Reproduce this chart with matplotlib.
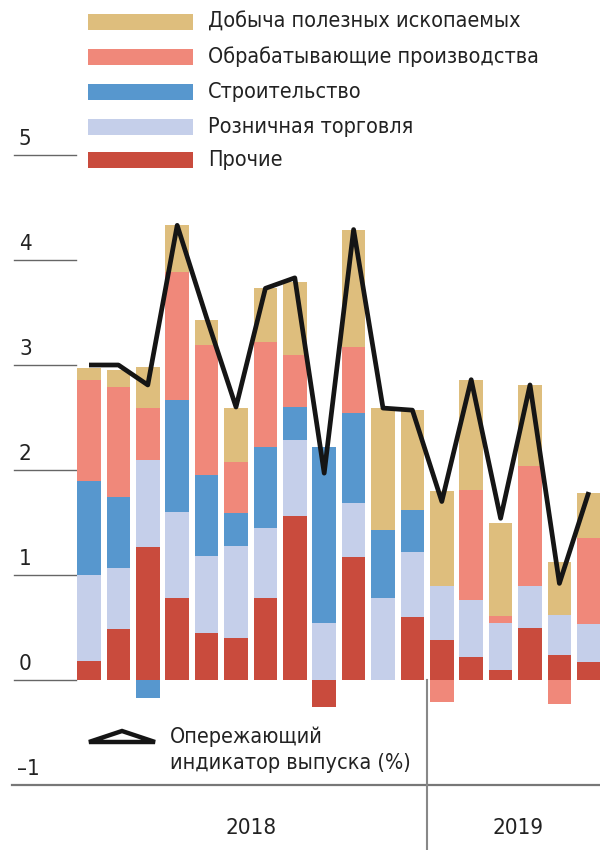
import numpy as np
import matplotlib
matplotlib.use('Agg')
import matplotlib.pyplot as plt
from matplotlib.patches import Rectangle, Polygon

plt.rcParams['font.family'] = ['DejaVu Sans']
plt.rcParams['font.stretch'] = 'condensed'

# ── данные ──
labels = ['Добыча полезных ископаемых', 'Обрабатывающие производства',
          'Строительство', 'Розничная торговля', 'Прочие']
colors = ['#DEBE7D', '#F0887A', '#5797CE', '#C5CFEA', '#C94B3D']

mining = [0.11, 0.16, 0.39, 0.44, 0.24, 0.51, 0.51, 0.69, 0.0, 1.12,
          1.16, 0.95, 0.90, 1.05, 0.89, 0.77, 0.50, 0.43]
manuf = [0.96, 1.05, 0.49, 1.22, 1.24, 0.49, 1.00, 0.50, 0.0, 0.63,
         0.0, 0.0, -0.21, 1.05, 0.07, 1.14, -0.23, 0.82]
constr = [0.90, 0.67, -0.17, 1.07, 0.77, 0.31, 0.77, 0.31, 1.68, 0.85,
          0.65, 0.40, 0.0, 0.0, 0.0, 0.0, 0.0, 0.0]
retail = [0.82, 0.58, 0.83, 0.82, 0.73, 0.88, 0.67, 0.73, 0.54, 0.52,
          0.78, 0.62, 0.52, 0.54, 0.44, 0.40, 0.38, 0.36]
other = [0.18, 0.49, 1.27, 0.78, 0.45, 0.40, 0.78, 1.56, -0.26, 1.17,
         0.0, 0.60, 0.38, 0.22, 0.10, 0.50, 0.24, 0.17]
indicator = [3.0, 3.0, 2.81, 4.33, 3.45, 2.6, 3.73, 3.83, 1.97, 4.29,
             2.59, 2.57, 1.7, 2.86, 1.54, 2.81, 0.92, 1.79]
n_2018 = 12
yticks = [5, 4, 3, 2, 1, 0, -1]

# ── пиксели -> данные ──
X0, DX = 89.0, 29.4
Y0, DY = 680.0, 105.0


def px(x):
    return (x - X0) / DX


def py(y):
    return (Y0 - y) / DY


fig = plt.figure(figsize=(6, 8.5), dpi=100)
ax = fig.add_axes([0, 0, 1, 1])
ax.set_xlim(px(0), px(600))
ax.set_ylim(py(850), py(0))
ax.axis('off')

# ── столбцы ──
x = np.arange(len(indicator))
stack = [other, retail, constr, manuf, mining]
stack_colors = colors[::-1]
pos = np.zeros(len(x))
neg = np.zeros(len(x))
for vals, c in zip(stack, stack_colors):
    v = np.array(vals)
    bottom = np.where(v >= 0, pos, neg)
    ax.bar(x, v, width=0.8, bottom=bottom, color=c, linewidth=0, zorder=2)
    pos += np.where(v >= 0, v, 0)
    neg += np.where(v < 0, v, 0)

ax.plot(x, indicator, color='#151515', lw=3.4, solid_joinstyle='round',
        solid_capstyle='butt', zorder=4)

# ── ось Y ──
for t in yticks:
    if t == -1:
        continue
    ax.plot([px(14), px(76)], [t, t], color='#666666', lw=1.0, zorder=1)
    ax.text(px(19), t + 0.06, str(t), fontsize=16, color='#222222',
            ha='left', va='bottom')
ax.text(px(17), -1 + 0.06, '\u2013' + '1', fontsize=16, color='#222222',
        ha='left', va='bottom')
ax.plot([px(12), px(600)], [-1, -1], color='#777777', lw=1.6, zorder=1)

# ── годы ──
ax.plot([n_2018 - 0.5, n_2018 - 0.5], [0, py(850)], color='#888888',
        lw=1.5, zorder=1)
ax.text((n_2018 - 1) / 2, py(828), '2018', fontsize=16, color='#222222',
        ha='center', va='center')
ax.text(14.6, py(828), '2019', fontsize=16, color='#222222',
        ha='center', va='center')

# ── легенда ──
rows = [22, 57, 92, 127, 160]
for lab, c, r in zip(labels, colors, rows):
    ax.add_patch(Rectangle((px(88), py(r + 7.5)), px(193) - px(88),
                           15 / DY, color=c, lw=0))
    ax.text(px(208), py(r), lab, fontsize=15.5, color='#222222',
            ha='left', va='center')

tri = Polygon([[px(89), py(742)], [px(155), py(742)], [px(122), py(731)]],
              closed=True, fill=False, edgecolor='#151515', lw=3.2,
              joinstyle='miter')
ax.add_patch(tri)
ax.text(px(170), py(737), 'Опережающий', fontsize=15.5, color='#222222',
        ha='left', va='center')
ax.text(px(170), py(763), 'индикатор выпуска (%)', fontsize=15.5,
        color='#222222', ha='left', va='center')

plt.savefig('out.png', dpi=100, facecolor='white')
plt.close()
